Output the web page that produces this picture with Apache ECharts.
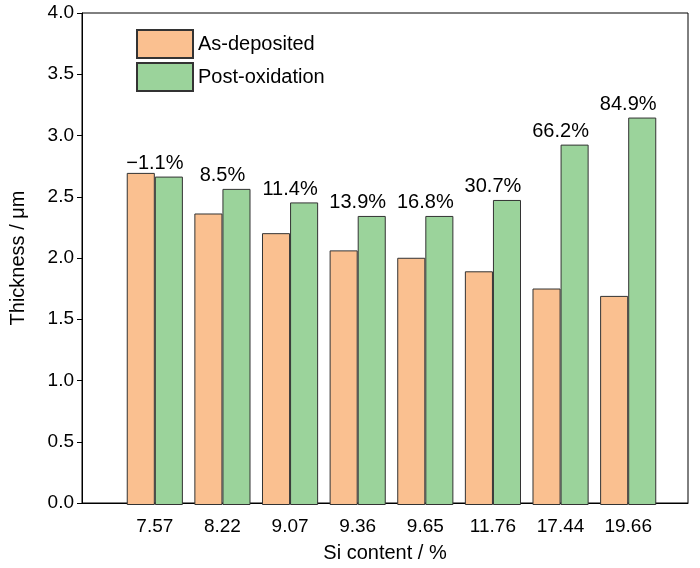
<!DOCTYPE html>
<html>
<head>
<meta charset="utf-8">
<script src="https://cdn.jsdelivr.net/npm/echarts@6/dist/echarts.min.js"></script>
<style>html,body{margin:0;padding:0;background:#fff}#main{width:700px;height:568px}</style>
</head>
<body>
<div id="main"></div>
<script>
const si = ['7.57', '8.22', '9.07', '9.36', '9.65', '11.76', '17.44', '19.66']
const asDep = [2.70, 2.37, 2.21, 2.07, 2.01, 1.90, 1.76, 1.70]
const postOx = [2.67, 2.57, 2.46, 2.35, 2.35, 2.48, 2.93, 3.15]
const change = ['\u22121.1%', '8.5%', '11.4%', '13.9%', '16.8%', '30.7%', '66.2%', '84.9%']
const font = 'Arial, "Liberation Sans", sans-serif'

const chart = echarts.init(document.getElementById('main'))
chart.setOption({
  animation: false,
  textStyle: { fontFamily: font },
  grid: [
    { left: 80, right: 12, top: 13, bottom: 63, show: true, borderColor: '#000', borderWidth: 1 },
    { left: 121, right: 38, top: 13, bottom: 63 }
  ],
  legend: {
    left: 131, top: 24, orient: 'vertical', itemWidth: 56, itemHeight: 28, itemGap: 3,
    icon: 'rect',
    textStyle: { fontSize: 20, color: '#000', fontFamily: font },
    data: ['As-deposited', 'Post-oxidation']
  },
  xAxis: [
    { gridIndex: 0, type: 'value', min: 0, max: 1, show: true,
      axisLine: { lineStyle: { color: '#000' } }, axisTick: { show: false },
      axisLabel: { show: false }, splitLine: { show: false },
      name: 'Si content / %', nameLocation: 'middle', nameGap: 40,
      nameTextStyle: { fontSize: 20, color: '#000' } },
    { gridIndex: 1, type: 'category', data: si,
      axisLine: { show: false }, axisTick: { show: false },
      axisLabel: { fontSize: 19, color: '#000', margin: 12 } }
  ],
  yAxis: [
    { gridIndex: 0, type: 'value', min: 0, max: 4, interval: 0.5,
      name: 'Thickness / \u03bcm', nameLocation: 'middle', nameGap: 54,
      nameTextStyle: { fontSize: 20, color: '#000' },
      axisLine: { show: true, lineStyle: { color: '#000' } },
      axisTick: { show: true, length: 5, lineStyle: { color: '#000' } },
      splitLine: { show: false },
      axisLabel: { fontSize: 19, color: '#000', formatter: v => v.toFixed(1) } },
    { gridIndex: 1, type: 'value', min: 0, max: 4, show: false }
  ],
  series: [
    {
      name: 'As-deposited', type: 'bar', xAxisIndex: 1, yAxisIndex: 1, data: asDep,
      barGap: '0%', barCategoryGap: '17%',
      itemStyle: { color: '#fac090', borderColor: '#333', borderWidth: 1 }
    },
    {
      name: 'Post-oxidation', type: 'bar', xAxisIndex: 1, yAxisIndex: 1, data: postOx,
      itemStyle: { color: '#9bd39b', borderColor: '#333', borderWidth: 1 },
      label: {
        show: true, position: 'top', offset: [-14, 0], distance: 3,
        fontSize: 20, color: '#000',
        formatter: p => change[p.dataIndex]
      }
    }
  ]
})
</script>
</body>
</html>
